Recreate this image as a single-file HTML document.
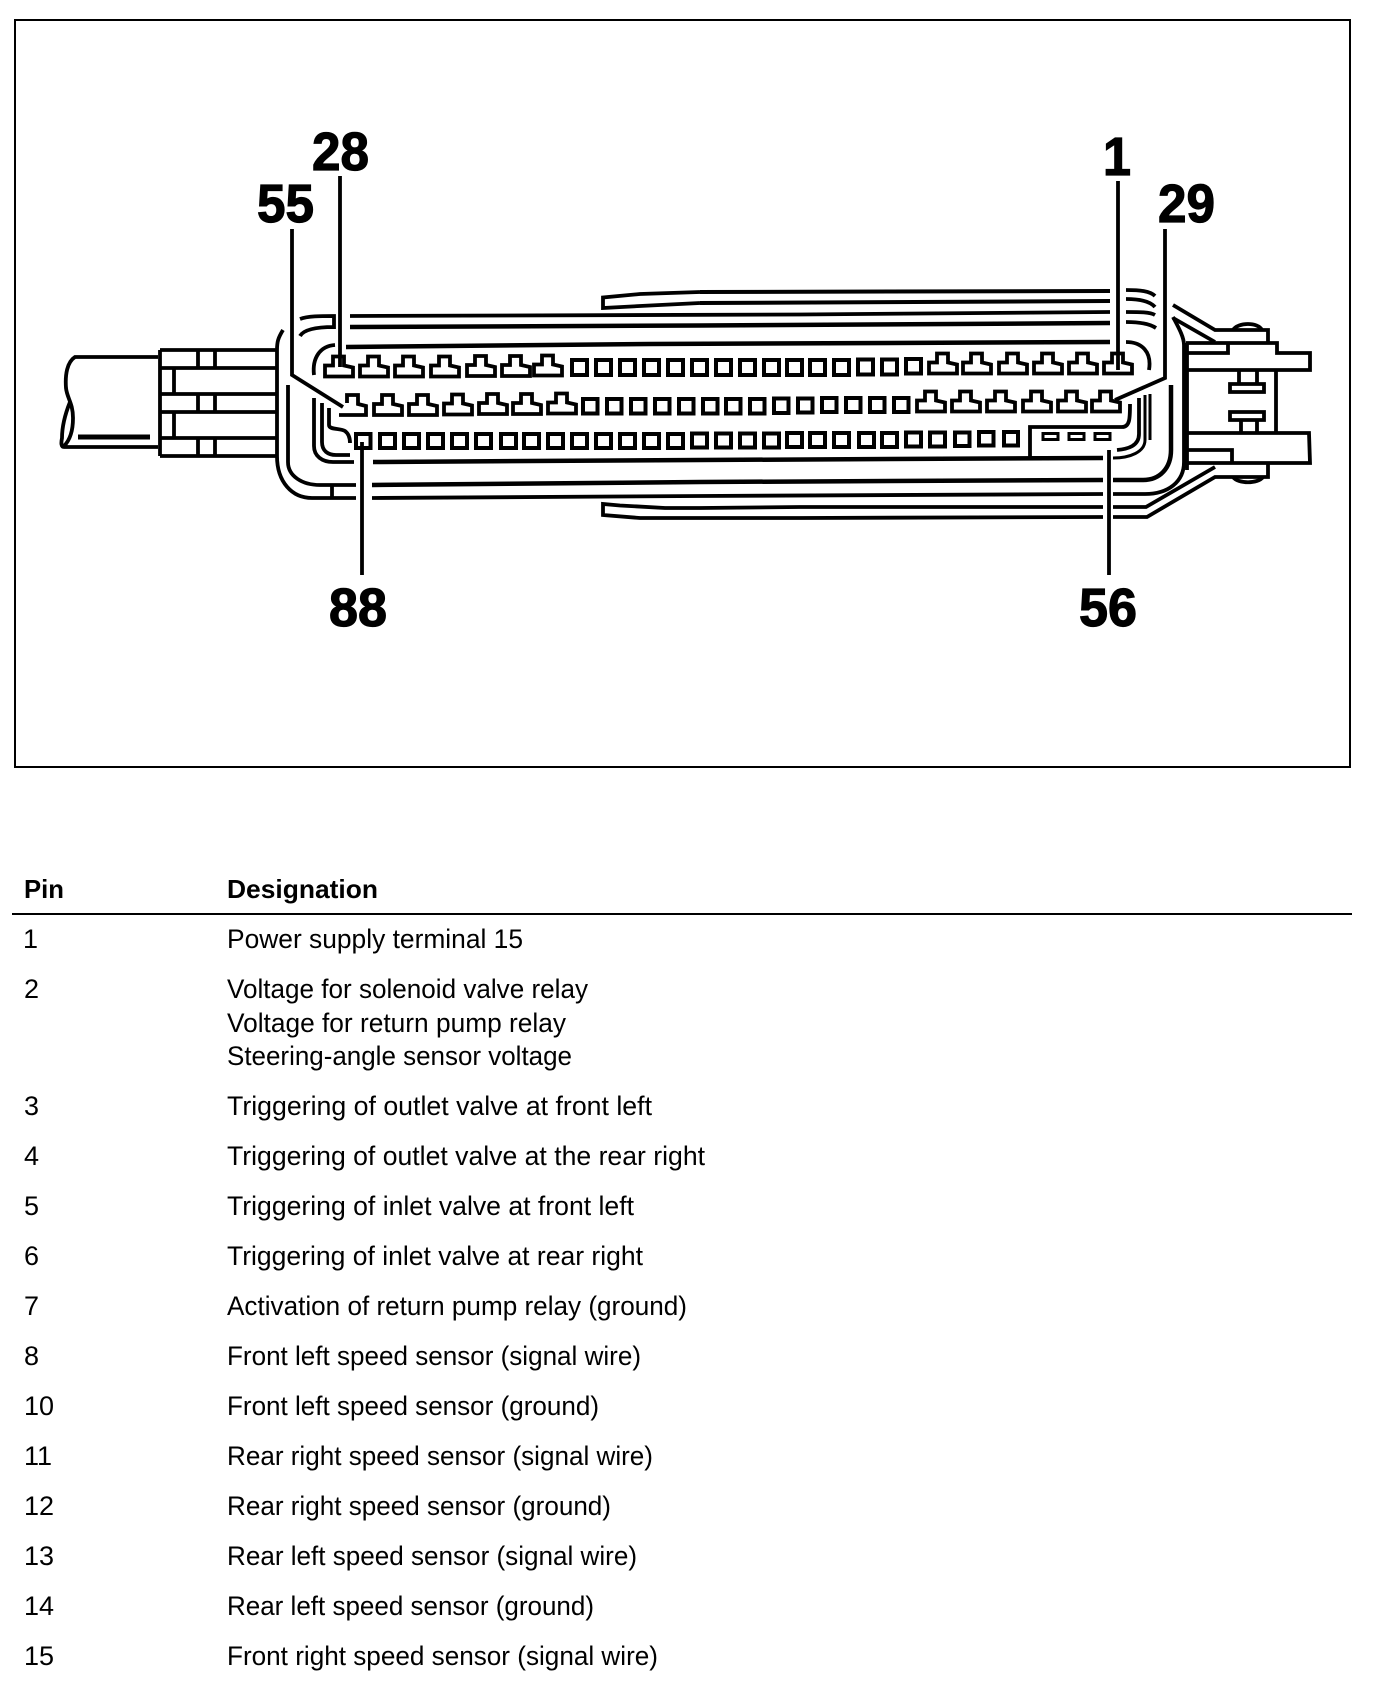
<!DOCTYPE html>
<html><head><meta charset="utf-8"><title>Pin assignment</title>
<style>html,body{margin:0;padding:0;background:#fff}svg{display:block}
text{font-family:"Liberation Sans",Arial,sans-serif;fill:#000}
.n{font-size:54px;font-weight:bold;stroke:#000;stroke-width:1.2px}
.h{font-size:26px;font-weight:bold}
.b{font-size:27px}
</style></head><body>
<svg width="1392" height="1692" viewBox="0 0 1392 1692" xmlns="http://www.w3.org/2000/svg">
<rect width="1392" height="1692" fill="#fff"/>
<rect x="15" y="20" width="1335" height="747" fill="none" stroke="#000" stroke-width="2"/>

<g fill="none" stroke="#000" stroke-width="3.8" stroke-linejoin="miter">
<!-- cable -->
<path d="M158 357H75C67 362 65 375 66 388C67 398 73 403 73 418C73 432 69 441 64 446M158 447H64C61 447 61 443 62 438C62 425 66 412 70 402"/>
<path d="M78 437H150" stroke-width="5"/>
<!-- strain relief block -->
<path d="M160 350H277M160 368H277M160 394H277M160 412H277M160 438H277M160 456H277M160 350V456"/>
<path d="M198 350V368M215 350V368M174 368V394M198 394V412M215 394V412M174 412V438M198 438V456M215 438V456"/>
<!-- left housing -->
<path d="M283 330C278 338 277 342 277 350V456C277 482 292 498 312 498H333"/>
<path d="M288 385V462C288 476 302 485 320 485H356"/>
<path d="M332 485V498M333 498H356"/>
<path d="M300 319C308 316 320 316 334 316V329M300 336C304 329 318 327 334 327"/>
<path d="M314 375C312 358 320 346 335 345"/>
<path d="M314 398V446C314 456 322 462 333 462H354"/>
<path d="M322 403V442C322 451 328 455 336 455H350"/>
<path d="M329 408V425C329 430 340 428 345 431C349 434 350 438 350 443"/>
<!-- long horizontal lines top -->
<path d="M350 316L800 314.5L1110 312"/>
<path d="M350 327L700 325.5L1110 323" stroke-width="4.500"/>
<path d="M346 347L650 344L1110 342" stroke-width="4.500"/>
<path d="M700 292L1110 291" stroke-width="4"/>
<path d="M700 303L1110 301" stroke-width="4"/>
<path d="M700 292L640 294L603 297.5V308L640 306L700 303"/>
<!-- long horizontal lines bottom -->
<path d="M373 462L700 460L1103 458" stroke-width="4.500"/>
<path d="M372 485L700 482L1103 480" stroke-width="4.500"/>
<path d="M372 498L700 496L1103 494"/>
<path d="M1103 507L800 507L700 508H665L620 505.5L603 504V515L640 518H800L1103 517"/>
<!-- right ends -->
<path d="M1126 290C1140 290 1150 291 1155 296M1126 299C1140 299 1150 301 1155 307M1126 312C1140 312 1150 312 1155 315M1126 322C1140 322 1150 324 1156 328"/>
<path d="M1126 342C1142 342 1152 352 1149 370"/>
<path d="M1113 480H1143C1160 480 1171 468 1171 450V385" stroke-width="4.500"/>
<path d="M1113 494H1145C1168 494 1184 482 1184 462V345C1184 338 1180 330 1173 317"/>
<path d="M1113 507H1146L1215 467M1113 517H1147L1215 477H1268V463"/>
<path d="M1139 398V434C1139 446 1128 449 1117 450"/>
<path d="M1145 395V440C1145 452 1130 458 1113 458M1150 394V440" stroke-width="3"/>
<!-- flange / bracket -->
<path d="M1173 305L1215 330H1268V342M1173 318L1215 342"/>
<path d="M1186 343H1277V353H1310V370H1186M1187 353H1228V343"/>
<path d="M1233 330C1238 322 1258 322 1262 330"/>
<path d="M1187 343V470M1276 370V433"/>
<path d="M1187 433H1309L1310 463H1187M1187 450H1232V463"/>
<path d="M1233 477C1238 484 1258 484 1263 477"/>
<path d="M1239 370V384M1257 370V384M1230 384H1264V392H1230ZM1230 412H1264V420H1230ZM1241 420V433M1257 420V433"/>
<!-- socket 56 outline -->
<path d="M1103 458H1030V427H1122C1130 427 1130 418 1130 404"/>
<path d="M1043 433.5h15v6h-15zM1069 433.5h15v6h-15zM1095 433.5h15v6h-15z" stroke-width="3"/>
<!-- square cavities row 1 -->
<path stroke-width="4" d="M572 360h15v15h-15zM596 360h15v15h-15zM620 360h15v15h-15zM644 360h15v15h-15zM668 360h15v15h-15zM692 360h15v15h-15zM716 360h15v15h-15zM740 360h15v15h-15zM764 360h15v15h-15zM787 360h15v15h-15zM810 360h15v15h-15zM834 360h15v15h-15zM858 359.5h15v15h-15zM882 359.5h15v15h-15zM906 359h15v14.500h-15z"/>
<!-- square cavities row 2 -->
<path stroke-width="4" d="M583 399h14.500v14.500h-14.500zM607 399h14.500v14.500h-14.500zM631 399h14.500v14.500h-14.500zM655 399h14.500v14.500h-14.500zM679 399h14.500v14.500h-14.500zM703 399h14.500v14.500h-14.500zM726 399h14.500v14.500h-14.500zM750 399h14.500v14.500h-14.500zM774 398.500h14.500v14.500h-14.500zM798 398.500h14.500v14h-14.500zM822 398h14.500v14h-14.500zM846 398h14.500v14h-14.500zM870 398h14.500v14h-14.500zM894 398h14.500v14h-14.500z"/>
<!-- square cavities row 3 -->
<path stroke-width="4" d="M356 434h14.500v14h-14.500zM380 434h15v14h-15zM404 434h15v14h-15zM428 434h15v14h-15zM452 434h15v14h-15zM476 434h15v14h-15zM501 434h15v14h-15zM524 434h15v14h-15zM548 434h15v14h-15zM572 434h15v14h-15zM596 434h15v14h-15zM620 434h15v14h-15zM644 434h15v14h-15zM668 434h15v14h-15zM692 433.500h15v14h-15zM716 433.500h15v14h-15zM740 433.500h15v14h-15zM764 433.500h15v14h-15zM787 433h15v14h-15zM810 433h15v14h-15zM834 433h15v14h-15zM859 433h15v14h-15zM882 433h15v14h-15zM906 432.500h15v14h-15zM930 432.500h15v14h-15zM955 432.500h14.500v13.500h-14.500zM979 432h14.500v13.500h-14.500zM1004 432h14v13.500h-14z"/>
<!-- keyed pins row 1 -->
<path stroke-width="3.800" d="M325 376.500v-11h8v-9h11v9l9 2v9zM360 376.500v-11h8v-9h11v9l9 2v9zM395 376.500v-11h8v-9h11v9l9 2v9zM431 376.500v-11h8v-9h11v9l9 2v9zM467 376v-11h8v-9h11v9l9 2v9zM502 376v-11h8v-9h11v9l9 2v9zM534 375.500v-11h8v-9h11v9l9 2v9z"/>
<path stroke-width="3.800" d="M929 373.500v-11h8v-9h11v9l9 2v9zM963 373.500v-11h8v-9h11v9l9 2v9zM999 373.500v-11h8v-9h11v9l9 2v9zM1034 373.500v-11h8v-9h11v9l9 2v9zM1069 373.500v-11h8v-9h11v9l9 2v9zM1104 373.500v-11h8v-9h11v9l9 2v9z"/>
<!-- keyed pins row 2 -->
<path stroke-width="3.800" d="M339 415h27v-9l-8-2v-9h-11v8M374 415v-11h8v-9h11v9l9 2v9zM409 415v-11h8v-9h11v9l9 2v9zM444 414.500v-11h8v-9h11v9l9 2v9zM479 414v-11h8v-9h11v9l9 2v9zM513 414v-11h8v-9h11v9l9 2v9zM548 413.500v-11h8v-9h11v9l9 2v9z"/>
<path stroke-width="3.800" d="M917 411.500v-11h8v-9h11v9l9 2v9zM952 411.500v-11h8v-9h11v9l9 2v9zM987 411.500v-11h8v-9h11v9l9 2v9zM1023 411.500v-11h8v-9h11v9l9 2v9zM1058 411.500v-11h8v-9h11v9l9 2v9zM1092 411.500v-11h8v-9h11v9l9 2v9z"/>
<!-- leader lines -->
<path stroke-width="3.800" d="M340 176V367M292 229V375L343 407M362 442V575M1109 450V575M1118 181V370M1165 229V378L1115 400"/>
</g>

<text class="n" x="312" y="170" textLength="57" lengthAdjust="spacingAndGlyphs">28</text>
<text class="n" x="257" y="222" textLength="57" lengthAdjust="spacingAndGlyphs">55</text>
<text class="n" x="1103" y="175" textLength="28" lengthAdjust="spacingAndGlyphs">1</text>
<text class="n" x="1158" y="222" textLength="57" lengthAdjust="spacingAndGlyphs">29</text>
<text class="n" x="329" y="626" textLength="58" lengthAdjust="spacingAndGlyphs">88</text>
<text class="n" x="1079" y="626" textLength="58" lengthAdjust="spacingAndGlyphs">56</text>

<text class="h" x="24" y="898" textLength="40" lengthAdjust="spacingAndGlyphs">Pin</text>
<text class="h" x="227" y="898" textLength="151" lengthAdjust="spacingAndGlyphs">Designation</text>
<rect x="12" y="913" width="1340" height="2" fill="#000"/>

<g>
<text class="b" x="23" y="948">1</text>
<text class="b" x="227" y="948" textLength="296" lengthAdjust="spacingAndGlyphs">Power supply terminal 15</text>
<text class="b" x="24" y="998">2</text>
<text class="b" x="227" y="998" textLength="361" lengthAdjust="spacingAndGlyphs">Voltage for solenoid valve relay</text>
<text class="b" x="227" y="1032" textLength="339" lengthAdjust="spacingAndGlyphs">Voltage for return pump relay</text>
<text class="b" x="227" y="1065" textLength="345" lengthAdjust="spacingAndGlyphs">Steering-angle sensor voltage</text>
<text class="b" x="24" y="1115">3</text>
<text class="b" x="227" y="1115" textLength="425" lengthAdjust="spacingAndGlyphs">Triggering of outlet valve at front left</text>
<text class="b" x="24" y="1165">4</text>
<text class="b" x="227" y="1165" textLength="478" lengthAdjust="spacingAndGlyphs">Triggering of outlet valve at the rear right</text>
<text class="b" x="24" y="1215">5</text>
<text class="b" x="227" y="1215" textLength="407" lengthAdjust="spacingAndGlyphs">Triggering of inlet valve at front left</text>
<text class="b" x="24" y="1265">6</text>
<text class="b" x="227" y="1265" textLength="416" lengthAdjust="spacingAndGlyphs">Triggering of inlet valve at rear right</text>
<text class="b" x="24" y="1315">7</text>
<text class="b" x="227" y="1315" textLength="460" lengthAdjust="spacingAndGlyphs">Activation of return pump relay (ground)</text>
<text class="b" x="24" y="1365">8</text>
<text class="b" x="227" y="1365" textLength="414" lengthAdjust="spacingAndGlyphs">Front left speed sensor (signal wire)</text>
<text class="b" x="24" y="1415">10</text>
<text class="b" x="227" y="1415" textLength="372" lengthAdjust="spacingAndGlyphs">Front left speed sensor (ground)</text>
<text class="b" x="24" y="1465">11</text>
<text class="b" x="227" y="1465" textLength="426" lengthAdjust="spacingAndGlyphs">Rear right speed sensor (signal wire)</text>
<text class="b" x="24" y="1515">12</text>
<text class="b" x="227" y="1515" textLength="384" lengthAdjust="spacingAndGlyphs">Rear right speed sensor (ground)</text>
<text class="b" x="24" y="1565">13</text>
<text class="b" x="227" y="1565" textLength="410" lengthAdjust="spacingAndGlyphs">Rear left speed sensor (signal wire)</text>
<text class="b" x="24" y="1615">14</text>
<text class="b" x="227" y="1615" textLength="367" lengthAdjust="spacingAndGlyphs">Rear left speed sensor (ground)</text>
<text class="b" x="24" y="1665">15</text>
<text class="b" x="227" y="1665" textLength="431" lengthAdjust="spacingAndGlyphs">Front right speed sensor (signal wire)</text>
</g>
</svg>
</body></html>
